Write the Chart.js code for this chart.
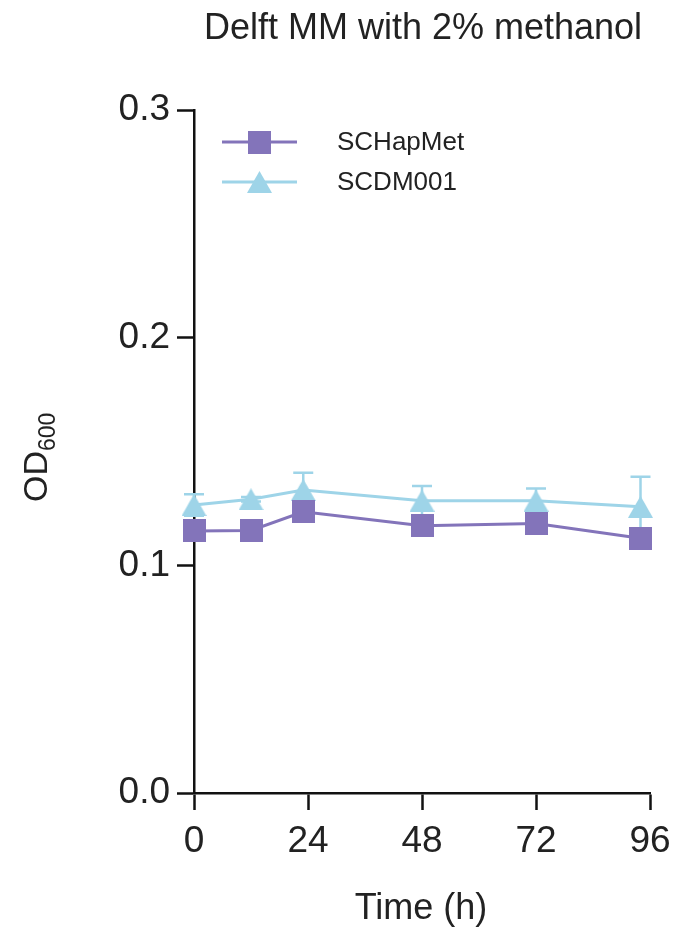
<!DOCTYPE html>
<html><head><meta charset="utf-8">
<script src="https://cdn.jsdelivr.net/npm/chart.js@4/dist/chart.umd.min.js"></script>
<style>html,body{margin:0;padding:0;background:#fff}#wrap{width:677px;height:934px;position:relative}</style>
</head><body><div id="wrap"><canvas id="c" width="677" height="934"></canvas></div>
<script>
const chartTitle = 'Delft MM with 2% methanol';
const xTitle = 'Time (h)';
const seriesNames = ['SCHapMet', 'SCDM001'];
const timeHours = [0, 12, 23, 48, 72, 94];
const schapmetOD = [0.1151, 0.1153, 0.1235, 0.1174, 0.1184, 0.1119];
const schapmetErr = [0.003, 0.003, 0.003, 0.003, 0.003, 0.003];
const scdm001OD = [0.1265, 0.1290, 0.1331, 0.1284, 0.1284, 0.1257];
const scdm001Err = [0.0047, 0.001, 0.0076, 0.0065, 0.0053, 0.0132];
const xTicks = [0, 24, 48, 72, 96];
const yTicks = [0, 0.1, 0.2, 0.3];

const PURPLE = '#8374BA';
const CYAN = '#9ED4E8';
const FONT = '"Liberation Sans", Arial, Helvetica, sans-serif';
const errs = [schapmetErr, scdm001Err];

const toPts = (ys) => timeHours.map((t, i) => ({x: t, y: ys[i]}));

function makeSquare(color, side) {
  const c = document.createElement('canvas');
  c.width = side; c.height = side;
  const g = c.getContext('2d');
  g.fillStyle = color; g.fillRect(0, 0, side, side);
  return c;
}
function makeTriangle(color, w, h) {
  const c = document.createElement('canvas');
  c.width = w; c.height = h;
  const g = c.getContext('2d');
  g.fillStyle = color;
  g.beginPath(); g.moveTo(w / 2, 0); g.lineTo(w, h); g.lineTo(0, h); g.closePath(); g.fill();
  return c;
}
const squareImg = makeSquare(PURPLE, 23);
const triImg = makeTriangle(CYAN, 25, 22);

const decor = {
  id: 'decor',
  beforeDatasetsDraw(chart) {
    const ctx = chart.ctx, xs = chart.scales.x, ys = chart.scales.y;
    ctx.save();
    chart.data.datasets.forEach((ds, di) => {
      ctx.strokeStyle = ds.borderColor;
      ctx.lineWidth = 2.5;
      ds.data.forEach((p, i) => {
        const e = errs[di][i];
        const x = xs.getPixelForValue(p.x);
        const yt = ys.getPixelForValue(p.y + e);
        const yb = ys.getPixelForValue(p.y - e);
        ctx.beginPath();
        ctx.moveTo(x, yt); ctx.lineTo(x, yb);
        ctx.moveTo(x - 10, yt); ctx.lineTo(x + 10, yt);
        ctx.moveTo(x - 10, yb); ctx.lineTo(x + 10, yb);
        ctx.stroke();
      });
    });
    ctx.restore();
  },
  afterDraw(chart) {
    const ctx = chart.ctx;
    ctx.save();
    ctx.fillStyle = '#222';
    ctx.textBaseline = 'alphabetic';
    ctx.textAlign = 'center';
    ctx.font = '36px ' + FONT;
    ctx.fillText(chartTitle, 423, 39);
    ctx.font = '36px ' + FONT;
    ctx.fillText(xTitle, 421, 919);
    // y title with subscript
    ctx.save();
    ctx.translate(47, 502);
    ctx.rotate(-Math.PI / 2);
    ctx.textAlign = 'left';
    ctx.font = '34px ' + FONT;
    ctx.fillText('OD', 0, 0);
    const w = ctx.measureText('OD').width;
    ctx.font = '23px ' + FONT;
    ctx.fillText('600', w, 8);
    ctx.restore();
    // legend
    const rows = [142, 182];
    chart.data.datasets.forEach((ds, di) => {
      const y = rows[di];
      ctx.strokeStyle = ds.borderColor;
      ctx.lineWidth = 3;
      ctx.beginPath(); ctx.moveTo(222, y); ctx.lineTo(297, y); ctx.stroke();
      const img = di === 0 ? squareImg : triImg;
      ctx.drawImage(img, 259.5 - img.width / 2, y - img.height / 2);
      ctx.fillStyle = '#222';
      ctx.textAlign = 'left';
      ctx.textBaseline = 'middle';
      ctx.font = '26px ' + FONT;
      ctx.fillText(ds.label, 337, y + 1);
    });
    ctx.restore();
  }
};

function noPad(s) { s.paddingLeft = 0; s.paddingRight = 0; s.paddingTop = 0; s.paddingBottom = 0; }

new Chart(document.getElementById('c'), {
  type: 'line',
  data: {
    datasets: [
      { label: seriesNames[0], data: toPts(schapmetOD), borderColor: PURPLE, backgroundColor: PURPLE,
        borderWidth: 3, pointStyle: squareImg, pointRadius: 12, clip: false, tension: 0 },
      { label: seriesNames[1], data: toPts(scdm001OD), borderColor: CYAN, backgroundColor: CYAN,
        borderWidth: 3, pointStyle: triImg, pointRadius: 12, clip: false, tension: 0 }
    ]
  },
  options: {
    responsive: false,
    devicePixelRatio: 1,
    animation: false,
    layout: { padding: { top: 110, right: 27, left: 0, bottom: 0 } },
    plugins: { legend: { display: false }, title: { display: false }, tooltip: { enabled: false } },
    scales: {
      x: {
        type: 'linear', min: 0, max: 96, z: 1,
        afterBuildTicks: (s) => { s.ticks = xTicks.map(v => ({value: v})); },
        afterFit: (s) => { s.height = 141; noPad(s); },
        grid: { drawOnChartArea: false, drawTicks: true, tickLength: 17, tickWidth: 2.5, tickColor: '#111' },
        border: { display: true, color: '#111', width: 2.5 },
        ticks: { color: '#222', padding: 10, font: { size: 37, family: FONT }, maxRotation: 0 }
      },
      y: {
        type: 'linear', min: 0, max: 0.3, z: 1,
        afterBuildTicks: (s) => { s.ticks = yTicks.map(v => ({value: v})); },
        afterFit: (s) => { s.width = 194; noPad(s); },
        grid: { drawOnChartArea: false, drawTicks: true, tickLength: 17, tickWidth: 2.5, tickColor: '#111' },
        border: { display: true, color: '#111', width: 2.5 },
        ticks: { color: '#222', padding: 7, font: { size: 37, family: FONT }, callback: (v) => Number(v).toFixed(1) }
      }
    }
  },
  plugins: [decor]
});
</script></body></html>
